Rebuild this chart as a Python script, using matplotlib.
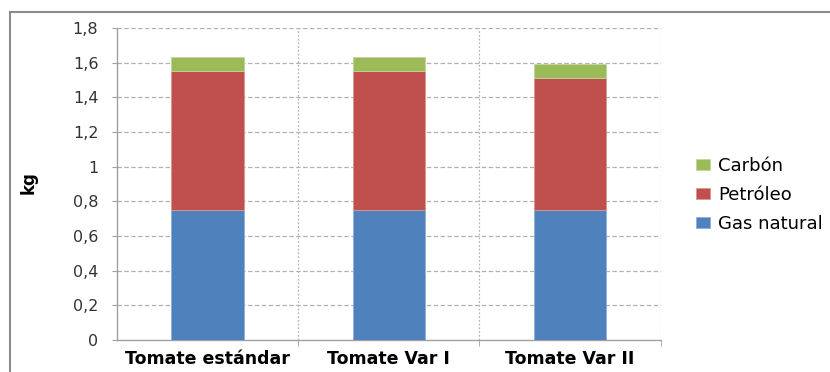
import matplotlib.pyplot as plt
from matplotlib.lines import Line2D
import numpy as np

categories = ["Tomate estándar", "Tomate Var I", "Tomate Var II"]
gas_natural = [0.75, 0.75, 0.75]
petroleo = [0.80, 0.80, 0.76]
carbon = [0.08, 0.085, 0.08]
yticks = [0, 0.2, 0.4, 0.6, 0.8, 1.0, 1.2, 1.4, 1.6, 1.8]
ytick_labels = ["0", "0,2", "0,4", "0,6", "0,8", "1", "1,2", "1,4", "1,6", "1,8"]

fig = plt.figure(figsize=(8.3, 3.72), dpi=100)
ax = fig.add_axes([0.141, 0.086, 0.655, 0.8387])

x = np.arange(len(categories))
w = 0.4
gas = np.array(gas_natural)
pet = np.array(petroleo)
car = np.array(carbon)
ax.bar(x, gas, w, color="#4F81BD", label="Gas natural", edgecolor="#8FB0DA", linewidth=0.6, zorder=3)
ax.bar(x, pet, w, bottom=gas, color="#C0504D", label="Petróleo", edgecolor="#D99795", linewidth=0.6, zorder=3)
ax.bar(x, car, w, bottom=gas + pet, color="#9BBB59", label="Carbón", edgecolor="#C3D69B", linewidth=0.6, zorder=3)

ax.set_xlim(-0.5, 2.5)
ax.set_ylim(0, 1.8)
ax.set_yticks(yticks)
ax.set_yticklabels(ytick_labels, fontsize=11.5, color="#333333")
ax.set_xticks(x)
ax.set_xticklabels(categories, fontsize=12.5, fontweight="bold")
ax.set_xticks([0.5, 1.5, 2.5], minor=True)
ax.tick_params(axis="x", which="major", length=0, pad=7)
ax.tick_params(axis="x", which="minor", length=4, color="#A0A0A0", direction="out")
ax.tick_params(axis="y", length=3.5, color="#A0A0A0", pad=10)

for v in yticks[1:]:
    ax.axhline(v, color="#B0B0B0", linestyle=(0, (3.5, 2)), linewidth=0.9, zorder=1)
for v in [0.5, 1.5, 2.5]:
    ax.axvline(v, color="#B5B5B5", linestyle=(0, (1.5, 1.5)), linewidth=0.9, zorder=1)

for s in ["top", "right"]:
    ax.spines[s].set_visible(False)
for s in ["left", "bottom"]:
    ax.spines[s].set_color("#A0A0A0")
    ax.spines[s].set_linewidth(1.0)

fig.text(29 / 830, 1 - 183 / 372, "kg", rotation=90, ha="center", va="center",
         fontsize=12, fontweight="bold")

handles, labels = ax.get_legend_handles_labels()
leg = fig.legend(handles[::-1], labels[::-1], loc="center left", bbox_to_anchor=(0.839, 0.476),
                 frameon=False, fontsize=13, handlelength=0.75, handleheight=0.6,
                 handletextpad=0.45, labelspacing=0.62, borderpad=0, borderaxespad=0)

fig.add_artist(Line2D([0.0121, 0.0121], [0, 0.969], transform=fig.transFigure, color="#8C8C8C", linewidth=1.5))
fig.add_artist(Line2D([0.0121, 1.0], [0.969, 0.969], transform=fig.transFigure, color="#8C8C8C", linewidth=1.5))

fig.savefig("out.png", dpi=100, facecolor="white")
